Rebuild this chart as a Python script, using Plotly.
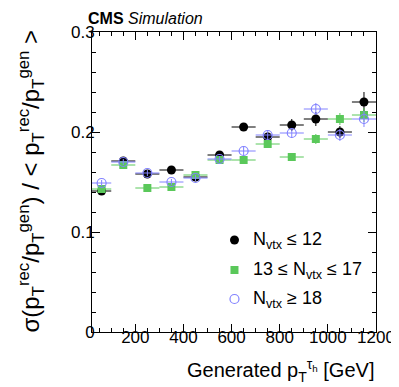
import plotly.graph_objects as go

bin_lo = [20, 100, 200, 300, 400, 500, 600, 700, 800, 900, 1000, 1100]
bin_hi = [100, 200, 300, 400, 500, 600, 700, 800, 900, 1000, 1100, 1200]

low_pu = [0.141, 0.171, 0.158, 0.162, 0.155, 0.177, 0.205, 0.195, 0.207, 0.213, 0.200, 0.230]
low_pu_err = [0.003, 0.003, 0.003, 0.003, 0.003, 0.003, 0.004, 0.005, 0.006, 0.007, 0.006, 0.010]
mid_pu = [0.143, 0.167, 0.144, 0.145, 0.157, 0.172, 0.172, 0.188, 0.175, 0.193, 0.213, 0.217]
mid_pu_err = [0.002, 0.002, 0.002, 0.002, 0.002, 0.003, 0.003, 0.004, 0.004, 0.005, 0.006, 0.007]
high_pu = [0.149, 0.170, 0.159, 0.150, 0.154, 0.173, 0.181, 0.197, 0.199, 0.223, 0.197, 0.213]
high_pu_err = [0.003, 0.003, 0.003, 0.003, 0.003, 0.003, 0.004, 0.005, 0.005, 0.006, 0.006, 0.008]

labels = ["N<sub>vtx</sub> ≤ 12", "13 ≤ N<sub>vtx</sub> ≤ 17", "N<sub>vtx</sub> ≥ 18"]

centers = [(a + b) / 2 for a, b in zip(bin_lo, bin_hi)]
half = [(b - a) / 2 for a, b in zip(bin_lo, bin_hi)]

FONT = "Liberation Sans, Arial, sans-serif"

fig = go.Figure()
series = [
    (low_pu, low_pu_err, "black", dict(symbol="circle", size=9, color="black")),
    (mid_pu, mid_pu_err, "rgb(90,200,90)", dict(symbol="square", size=8, color="rgb(90,200,90)")),
    (high_pu, high_pu_err, "rgb(130,130,255)", dict(symbol="circle-open", size=9, color="rgb(130,130,255)", line=dict(width=1.2))),
]
for (vals, errs, col, mk) in series:
    fig.add_trace(go.Scatter(
        x=centers, y=vals, mode="markers", marker=mk, showlegend=False,
        error_x=dict(type="data", array=half, color=col, thickness=1, width=0),
        error_y=dict(type="data", array=errs, color=col, thickness=1, width=0),
    ))

# legend
leg_y = [0.092, 0.062, 0.033]
for (vals, errs, col, mk), lab, ly in zip(series, labels, leg_y):
    fig.add_trace(go.Scatter(x=[612], y=[ly], mode="markers", marker=mk, showlegend=False, hoverinfo="skip"))
    fig.add_annotation(x=680, y=ly, xref="x", yref="y", text=lab, showarrow=False,
                       xanchor="left", yanchor="middle", font=dict(family=FONT, size=18, color="black"))

axis_common = dict(showgrid=False, zeroline=False, ticks="inside", mirror="allticks", showline=True,
                   linecolor="black", linewidth=1, tickcolor="black", ticklen=8,
                   tickfont=dict(family=FONT, size=17, color="black"))
fig.update_xaxes(range=[20, 1200], tickvals=[200, 400, 600, 800, 1000, 1200], ticklabelstandoff=-10,
                 minor=dict(dtick=50, tick0=0, ticks="inside", ticklen=4, tickcolor="black"), **axis_common)
fig.update_yaxes(range=[0, 0.3], tickvals=[0, 0.1, 0.2, 0.3], ticktext=["0", "0.1", "0.2", "0.3"],
                 ticklabelstandoff=-7,
                 minor=dict(dtick=0.02, ticks="inside", ticklen=4, tickcolor="black"), **axis_common)

fig.add_annotation(x=1, y=0, xref="paper", yref="paper", xanchor="right", yanchor="top", yshift=-22,
                   text="Generated p<sub>T</sub><sup>τ<sub>h</sub></sup> [GeV]", showarrow=False,
                   font=dict(family=FONT, size=20, color="black"))
fig.add_annotation(x=0, y=1, xref="paper", yref="paper", xanchor="center", yanchor="top", xshift=-62, yshift=4,
                   textangle=-90,
                   text="σ(p<sub>T</sub><sup>rec</sup>/p<sub>T</sub><sup>gen</sup>) / < p<sub>T</sub><sup>rec</sup>/p<sub>T</sub><sup>gen</sup> >",
                   showarrow=False, font=dict(family=FONT, size=24, color="black"))
fig.add_annotation(x=0, y=1, xref="paper", yref="paper", xanchor="left", yanchor="bottom", xshift=-6, yshift=3,
                   text="<b>CMS</b> <i>Simulation</i>", showarrow=False,
                   font=dict(family=FONT, size=16, color="black"))

fig.update_layout(width=399, height=387, margin=dict(l=84, r=24, t=24, b=63),
                  plot_bgcolor="white", paper_bgcolor="white")
fig.write_html("out.html")
